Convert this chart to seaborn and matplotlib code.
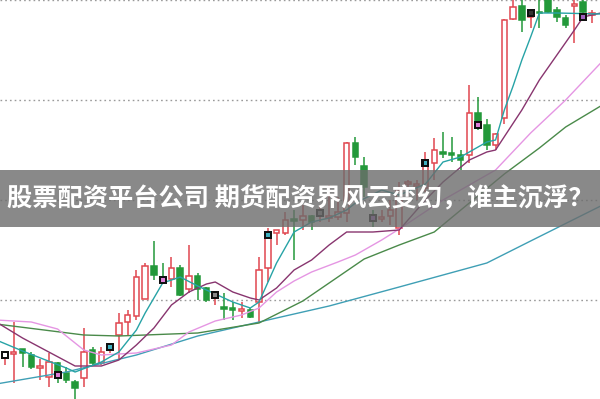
import numpy as np
import pandas as pd
import matplotlib
matplotlib.use("Agg")
import matplotlib.pyplot as plt
import seaborn as sns

# ---------------- data (prices) ----------------
opens = [22.15, 22.30, 22.55, 22.25, 21.60, 21.15, 21.85, 21.35, 20.90, 21.10,
         22.50, 21.85, 22.50, 23.25, 23.90, 24.20, 25.05, 26.70, 26.15, 26.05,
         26.60, 25.55, 26.20, 25.60, 25.10, 24.65, 24.60, 24.45, 24.50, 24.90,
         26.60, 28.35, 28.35, 29.05, 29.00, 29.20, 29.20, 29.10, 29.15, 29.35,
         32.85, 31.70, 29.25, 29.05, 29.20, 28.60, 30.80, 30.70, 30.60, 31.85,
         32.40, 32.35, 32.25, 32.25, 34.35, 33.75, 32.75, 34.10, 39.05, 39.70,
         39.15, 39.40, 40.00, 39.50, 39.10, 39.70, 39.90, 39.25]
closes = [22.35, 22.40, 22.35, 21.65, 21.70, 21.90, 21.25, 21.00, 20.60, 22.40,
          21.85, 22.40, 22.70, 23.85, 24.25, 26.15, 26.70, 26.25, 25.95, 26.60,
          25.25, 26.20, 25.55, 25.00, 25.35, 24.55, 24.50, 24.55, 24.15, 26.50,
          28.40, 28.50, 29.00, 28.95, 29.20, 28.90, 29.45, 29.20, 29.40, 32.85,
          32.15, 30.65, 28.95, 29.15, 29.50, 30.50, 30.90, 30.80, 32.00, 32.50,
          32.30, 32.25, 32.00, 34.35, 33.75, 32.75, 33.30, 39.00, 39.65, 39.00,
          39.50, 39.35, 39.40, 39.15, 38.75, 39.80, 39.40, 39.35]
highs = [22.40, 23.90, 22.55, 22.40, 22.05, 22.35, 21.90, 21.65, 21.00, 23.60,
         22.65, 22.65, 22.75, 24.35, 24.50, 26.50, 26.85, 27.95, 26.85, 27.15,
         26.75, 27.75, 26.35, 25.65, 25.45, 25.35, 24.90, 24.90, 24.60, 27.15,
         28.60, 28.50, 29.40, 29.50, 29.75, 29.25, 29.75, 30.75, 30.15, 32.90,
         33.15, 32.15, 29.50, 29.50, 30.00, 30.90, 31.00, 31.00, 32.40, 33.10,
         33.40, 33.15, 32.50, 35.75, 35.15, 34.05, 33.35, 39.05, 40.00, 40.00,
         39.50, 40.00, 40.10, 39.65, 39.25, 40.00, 40.00, 39.50]
lows = [21.75, 20.85, 21.65, 21.55, 21.00, 20.65, 20.85, 20.85, 20.05, 20.65,
        21.75, 21.75, 22.35, 22.00, 23.25, 24.00, 25.65, 26.00, 25.85, 25.65,
        25.20, 25.35, 25.00, 24.90, 24.75, 24.00, 24.00, 24.10, 24.10, 23.85,
        25.90, 27.75, 28.25, 27.00, 28.50, 28.50, 28.90, 28.90, 29.00, 28.90,
        31.75, 30.15, 28.65, 28.90, 28.75, 28.25, 30.00, 30.00, 30.40, 31.00,
        32.10, 31.90, 31.50, 31.85, 33.50, 32.50, 32.50, 33.80, 39.00, 38.40,
        38.60, 38.60, 39.35, 38.90, 38.60, 37.85, 39.00, 38.85]

marker_idx = [0, 6, 12, 18, 24, 30, 36, 42, 48, 54, 60, 66]
marker_px = [22.25, 21.25, 22.65, 26.00, 25.25, 28.25, 29.35, 29.10, 31.85, 33.75, 39.35, 39.15]

ma5_x = [-1, 2, 7, 8, 11, 13, 15, 16, 18, 20, 22, 24, 26, 28, 29, 31, 33, 35, 37, 39,
         40, 43, 45, 48, 50, 52, 55, 56, 57, 58, 59, 60, 61, 63, 68]
ma5_y = [23.00, 22.45, 21.60, 21.40, 21.90, 22.40, 23.50, 24.35, 25.85, 26.15, 25.70,
         25.30, 24.90, 24.60, 24.90, 26.85, 28.40, 28.90, 29.10, 29.50, 29.85, 30.50,
         30.25, 30.80, 31.90, 32.15, 32.90, 33.00, 34.50, 35.70, 37.00, 38.15, 39.35,
         39.35, 39.30]

ma10_x = [-1, 2, 5, 8, 11, 13, 15, 17, 19, 21, 23, 24, 26, 28, 29, 31, 33, 35, 37,
          39, 42, 45, 48, 50, 53, 55, 56, 59, 61, 65, 66, 68]
ma10_y = [23.90, 23.10, 22.40, 21.70, 21.70, 22.00, 22.75, 23.60, 24.75, 25.40, 25.80,
          25.90, 25.40, 25.10, 25.00, 25.60, 26.50, 27.00, 27.75, 28.40, 28.40, 28.50,
          30.00, 30.90, 32.00, 32.40, 32.50, 34.50, 36.00, 38.50, 39.15, 39.35]

ma20_x = [-1, 3, 6, 9, 11, 15, 19, 21, 24, 27, 29, 31, 33, 35, 38, 40, 43, 45, 50,
          56, 60, 64, 68]
ma20_y = [24.00, 23.90, 23.55, 22.50, 22.25, 22.35, 22.75, 23.40, 23.95, 24.25, 24.60,
          25.40, 25.95, 26.40, 26.90, 27.25, 28.00, 28.55, 30.00, 31.50, 33.35, 35.00,
          36.85]

ma30_x = [-1, 9, 13, 22, 29, 34, 37, 41, 45, 49, 53, 57, 61, 64, 68]
ma30_y = [23.80, 23.25, 23.20, 23.35, 23.85, 24.95, 25.85, 27.05, 27.75, 28.40, 29.85,
          31.30, 32.60, 33.65, 34.70]

ma60_x = [-1, 7, 15, 22, 29, 37, 45, 55, 60, 68]
ma60_y = [20.80, 21.40, 22.25, 23.20, 23.90, 24.70, 25.65, 26.85, 27.95, 29.70]

grid_levels = [25, 30, 35, 40]
title = "股票配资平台公司 期货配资界风云变幻，谁主沉浮？"

# ---------------- drawing ----------------
sns.set_theme(style="white")
plt.rcParams['font.family'] = ['Noto Sans CJK SC', 'DejaVu Sans']

fig = plt.figure(figsize=(6.0, 3.99), dpi=100)
ax = fig.add_axes([0, 0, 1, 1])
ax.set_xlim(-0.57, 67.92)
ax.set_ylim(20.05, 40.0)
ax.axis("off")

for g in grid_levels:
    ax.axhline(g, color="#9a9a9a", lw=1.0, ls=(0, (1.2, 2.2)), zorder=0)

RED = "#e0474f"
GREEN = "#23993a"
w = 0.62
n = len(opens)
idx = np.arange(n)
for i in range(n):
    o, c, h, l = opens[i], closes[i], highs[i], lows[i]
    top, bot = max(o, c), min(o, c)
    if bot == top:
        top += 0.02
    up = c >= o
    col = RED if up else GREEN
    ax.plot([i, i], [top, h], color=col, lw=1.1, zorder=2, solid_capstyle="butt")
    ax.plot([i, i], [l, bot], color=col, lw=1.1, zorder=2, solid_capstyle="butt")
    if up:
        ax.add_patch(plt.Rectangle((i - w / 2, bot), w, top - bot, facecolor="white",
                                   edgecolor=col, lw=1.1, zorder=3))
    else:
        ax.add_patch(plt.Rectangle((i - w / 2, bot), w, top - bot, facecolor=col,
                                   edgecolor=col, lw=1.1, zorder=3))

ma_sets = [
    (ma60_x, ma60_y, "#3f9fb5"),
    (ma30_x, ma30_y, "#4a8a4a"),
    (ma20_x, ma20_y, "#e596e3"),
    (ma10_x, ma10_y, "#88356f"),
    (ma5_x, ma5_y, "#27a3a6"),
]
for xs, ys, col in ma_sets:
    df = pd.DataFrame({"x": xs, "y": ys})
    sns.lineplot(data=df, x="x", y="y", ax=ax, color=col, lw=1.0, zorder=4,
                 sort=False, estimator=None)

inner = ["#ffffff", "#e07fd8", "#3fb0c0", "#e07fd8", "#888888", "#3fb0c0",
         "#888888", "#a060c0", "#3fb0c0", "#e07fd8", "#333333", "#a060c0"]
ax.scatter(marker_idx, marker_px, marker="s", s=40, color="#111111", zorder=5, lw=0)
ax.scatter(marker_idx, marker_px, marker="s", s=8, c=inner, zorder=6, lw=0)

# banner
fig.patches.append(plt.Rectangle((0, 1 - 227 / 399), 1, 57 / 399, transform=fig.transFigure,
                                 facecolor="#6c6c6c", alpha=0.8, edgecolor="none", zorder=10))
fig.text(0.5, 1 - 199 / 399, title, ha="center", va="center", color="white",
         fontsize=18.2, fontweight="bold", zorder=11)

fig.savefig("out.png", dpi=100)
